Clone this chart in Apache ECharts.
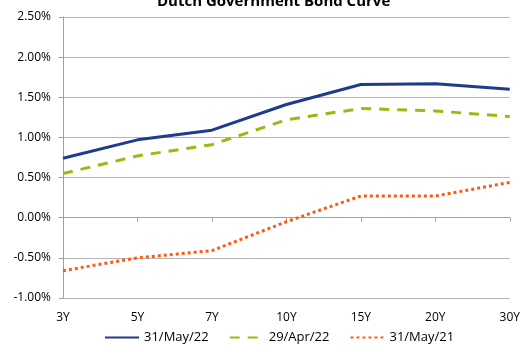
<!DOCTYPE html>
<html>
<head>
<meta charset="utf-8">
<script src="https://cdn.jsdelivr.net/npm/echarts@6/dist/echarts.min.js"></script>
<style>
  html, body { margin: 0; padding: 0; background: #fff; }
  #chart { width: 523px; height: 345px; }
</style>
</head>
<body>
<div id="chart"></div>
<script>
// Maturities along the curve
const maturities = ['3Y', '5Y', '7Y', '10Y', '15Y', '20Y', '30Y'];

// Yields in percent
const may22 = [0.74, 0.97, 1.09, 1.41, 1.66, 1.67, 1.60];
const apr22 = [0.55, 0.77, 0.91, 1.22, 1.36, 1.33, 1.26];
const may21 = [-0.66, -0.50, -0.41, -0.05, 0.27, 0.27, 0.44];

const seriesNames = ['31/May/22', '29/Apr/22', '31/May/21'];

const font = 'Open Sans, sans-serif';
const chart = echarts.init(document.getElementById('chart'));

chart.setOption({
  animation: false,
  title: {
    text: 'Dutch Government Bond Curve',
    left: 152,
    top: -11,
    textStyle: { fontFamily: font, fontSize: 15, fontWeight: 'bold', color: '#000' }
  },
  grid: { left: 63, right: 9, top: 17, bottom: 47 },
  legend: {
    bottom: -4,
    left: 99,
    itemWidth: 34,
    itemHeight: 3,
    itemGap: 20,
    itemStyle: { opacity: 0 },
    textStyle: { fontFamily: font, fontSize: 13, color: '#000' },
    data: seriesNames
  },
  xAxis: [
    {
      type: 'category',
      data: maturities,
      boundaryGap: false,
      axisLine: { show: false, onZero: false },
      axisTick: { show: false },
      axisLabel: { fontFamily: font, fontSize: 12, color: '#000', margin: 14 }
    },
    {
      type: 'category',
      data: maturities,
      boundaryGap: false,
      position: 'bottom',
      axisLine: { show: true, onZero: true, lineStyle: { color: '#a0a0a0', width: 1 } },
      axisTick: { show: true, length: 4, lineStyle: { color: '#a0a0a0' } },
      axisLabel: { show: false }
    }
  ],
  yAxis: {
    type: 'value',
    min: -1,
    max: 2.5,
    interval: 0.5,
    axisLine: { show: true, lineStyle: { color: '#a0a0a0' } },
    axisTick: { show: true, length: 4, lineStyle: { color: '#a0a0a0' } },
    splitLine: { lineStyle: { color: '#b4b4b4', width: 1 } },
    axisLabel: {
      fontFamily: font, fontSize: 12, color: '#000', margin: 12,
      formatter: v => v.toFixed(2) + '%'
    }
  },
  series: [
    {
      name: seriesNames[0], type: 'line', data: may22, symbol: 'none',
      lineStyle: { color: '#1f3b8c', width: 3 }, itemStyle: { color: '#1f3b8c' }
    },
    {
      name: seriesNames[1], type: 'line', data: apr22, symbol: 'none',
      lineStyle: { color: '#99bb11', width: 3, type: [10, 8] }, itemStyle: { color: '#99bb11' }
    },
    {
      name: seriesNames[2], type: 'line', data: may21, symbol: 'none',
      lineStyle: { color: '#ff5a14', width: 3, type: [3, 3] }, itemStyle: { color: '#ff5a14' }
    }
  ]
});
</script>
</body>
</html>
